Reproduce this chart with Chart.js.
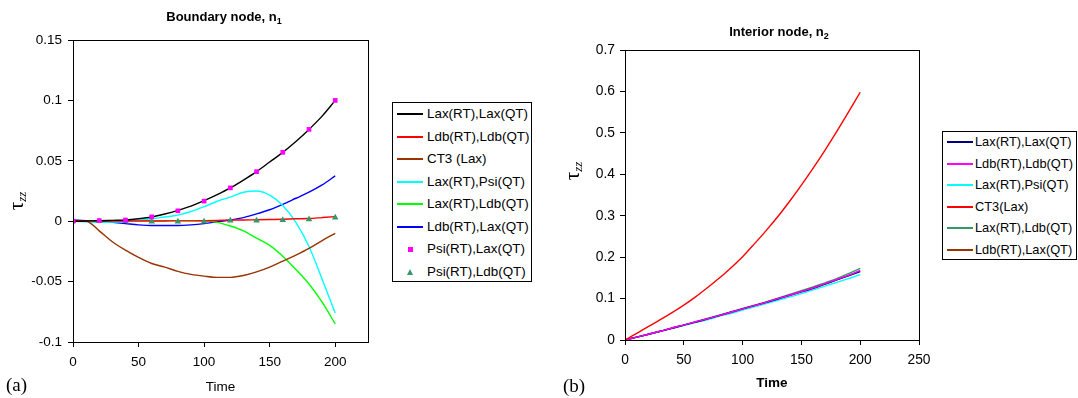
<!DOCTYPE html>
<html>
<head>
<meta charset="utf-8">
<script src="https://cdn.jsdelivr.net/npm/chart.js@4.4.1/dist/chart.umd.min.js"></script>
<style>
  html, body { margin: 0; padding: 0; background: #fff; }
  #wrap { position: relative; width: 1078px; height: 398px; overflow: hidden; font-family: "Liberation Sans", Arial, sans-serif; color: #000; }
  canvas { position: absolute; top: 0; }
  .ttl { position: absolute; font-weight: bold; font-size: 13px; white-space: nowrap; transform: translate(-50%, -50%); line-height: 1; }
  .ttl sub { font-size: 9px; vertical-align: -3px; }
  .ytl { position: absolute; white-space: nowrap; transform: translate(-50%, -50%) rotate(-90deg); font-family: "Liberation Serif", serif; font-size: 21px; line-height: 1; }
  .ytl sub { font-size: 13px; font-style: italic; vertical-align: -3px; }
  .pl { position: absolute; font-family: "Liberation Serif", serif; font-size: 19px; line-height: 1; transform: translateY(-50%); }
  .leg { position: absolute; border: 1px solid #000; box-sizing: border-box; background: #fff; }
  .row { position: absolute; left: 0; right: 0; white-space: nowrap; }
  .row .smp { position: absolute; top: 50%; }
  .row .txt { position: absolute; top: 50%; transform: translateY(-50%); line-height: 1; }
</style>
</head>
<body>
<div id="wrap">
  <canvas id="ca" width="540" height="398" style="left:0"></canvas>
  <canvas id="cb" width="538" height="398" style="left:540px"></canvas>
  <div class="ttl" style="left:224px;top:18px">Boundary node, n<sub>1</sub></div>
  <div class="ttl" style="left:779px;top:33px">Interior node, n<sub>2</sub></div>
  <div class="ytl" style="left:17px;top:201px">τ<sub>zz</sub></div>
  <div class="ytl" style="left:573px;top:171px">τ<sub>zz</sub></div>
  <div class="pl" style="left:6px;top:384px">(a)</div>
  <div class="pl" style="left:563px;top:385px">(b)</div>
  <div class="leg" id="legA" style="left:392px;top:102px;width:140px;height:180px;font-size:13.4px"></div>
  <div class="leg" id="legB" style="left:942px;top:131px;width:135px;height:129px;font-size:12.8px"></div>
</div>
<script>
// ---------- Data: chart (a) Boundary node ----------
const timeA = [0,10,20,30,40,50,60,70,80,90,100,110,120,130,140,150,160,170,180,190,200];
const laxLaxA = [0,0.0002,0.0004,0.0007,0.001,0.002,0.0035,0.006,0.009,0.0125,0.017,0.022,0.0275,0.034,0.041,0.049,0.057,0.066,0.076,0.087,0.100];
const ldbLdbA = [0.0005,0.0005,0.0003,0.0002,0.0002,0.0002,0.0002,0.0002,0.0003,0.0003,0.0004,0.0006,0.0009,0.001,0.0012,0.0014,0.0016,0.002,0.0022,0.003,0.0038];
const ct3A    = [0,0,-0.008,-0.017,-0.024,-0.030,-0.035,-0.038,-0.0415,-0.044,-0.0455,-0.0465,-0.0465,-0.045,-0.042,-0.038,-0.033,-0.028,-0.0225,-0.016,-0.010];
const laxPsiA = [0,-0.0005,-0.001,-0.0008,0,0.0008,0.002,0.0035,0.005,0.008,0.012,0.0165,0.020,0.024,0.025,0.0215,0.013,-0.001,-0.021,-0.048,-0.076];
const laxLdbA = [0,0.0003,0.0004,0.0005,0.0005,0.0005,0.0005,0.0005,0.0005,0.0005,0.0003,-0.001,-0.004,-0.008,-0.014,-0.020,-0.029,-0.040,-0.052,-0.067,-0.085];
const ldbLaxA = [0.001,0.0005,0,-0.001,-0.002,-0.003,-0.0035,-0.0035,-0.0035,-0.003,-0.002,-0.0005,0.001,0.003,0.006,0.0095,0.014,0.019,0.024,0.030,0.0375];
const timeMarkA = [0,20,40,60,80,100,120,140,160,180,200];
const psiLaxA = [0,0.0005,0.001,0.0036,0.0086,0.0166,0.0276,0.041,0.057,0.076,0.100];
const psiLdbA = [0,0,0,-0.0003,-0.0003,-0.0003,0.0005,0.0005,0.001,0.0015,0.003];
const labelsA = ["Lax(RT),Lax(QT)","Ldb(RT),Ldb(QT)","CT3 (Lax)","Lax(RT),Psi(QT)","Lax(RT),Ldb(QT)","Ldb(RT),Lax(QT)","Psi(RT),Lax(QT)","Psi(RT),Ldb(QT)"];
const yTicksA = [-0.1,-0.05,0,0.05,0.1,0.15];
const xTicksA = [0,50,100,150,200];

// ---------- Data: chart (b) Interior node ----------
const timeB = [0,10,20,30,40,50,60,70,80,90,100,110,120,130,140,150,160,170,180,190,200];
const laxLaxB = [0,0.007,0.014,0.021,0.028,0.036,0.043,0.051,0.059,0.067,0.075,0.083,0.091,0.099,0.108,0.116,0.125,0.135,0.145,0.155,0.165];
const ldbLdbB = [0,0.007,0.014,0.021,0.029,0.036,0.044,0.051,0.059,0.067,0.075,0.083,0.091,0.100,0.108,0.117,0.126,0.136,0.146,0.156,0.168];
const laxPsiB = [0,0.007,0.014,0.021,0.028,0.035,0.042,0.049,0.057,0.064,0.072,0.080,0.088,0.096,0.104,0.112,0.121,0.130,0.139,0.148,0.158];
const ct3B    = [0,0.016,0.033,0.049,0.066,0.084,0.104,0.126,0.149,0.174,0.201,0.232,0.264,0.298,0.335,0.374,0.415,0.458,0.503,0.550,0.598];
const laxLdbB = [0,0.007,0.014,0.021,0.029,0.036,0.044,0.052,0.060,0.068,0.076,0.084,0.092,0.101,0.110,0.119,0.128,0.138,0.148,0.160,0.173];
const ldbLaxB = [0,0.007,0.014,0.021,0.029,0.036,0.043,0.051,0.059,0.067,0.075,0.083,0.091,0.100,0.108,0.117,0.126,0.135,0.145,0.156,0.167];
const labelsB = ["Lax(RT),Lax(QT)","Ldb(RT),Ldb(QT)","Lax(RT),Psi(QT)","CT3(Lax)","Lax(RT),Ldb(QT)","Ldb(RT),Lax(QT)"];

// ---------- Styles ----------
const colorsA = ["#000000","#FF0000","#993300","#00FFFF","#00FF00","#0000FF","#FF00FF","#339966"];
const colorsB = ["#000080","#FF00FF","#00FFFF","#FF0000","#339966","#993300"];

const pts = (xs, ys) => xs.map((x, i) => ({x: x, y: ys[i]}));
const fmt = v => String(parseFloat(v.toFixed(3)));

const framePlugin = {
  id: 'frame',
  afterDraw(chart) {
    const a = chart.chartArea, c = chart.ctx;
    c.save();
    c.strokeStyle = '#000';
    c.lineWidth = 1;
    c.strokeRect(Math.round(a.left) + 0.5, Math.round(a.top) + 0.5, Math.round(a.right - a.left), Math.round(a.bottom - a.top));
    c.restore();
  }
};

function lineDs(label, xs, ys, color, order) {
  return { label, data: pts(xs, ys), borderColor: color, backgroundColor: color, borderWidth: 1.4,
           pointRadius: 0, cubicInterpolationMode: 'monotone', fill: false, order: order };
}
function markDs(label, xs, ys, color, style, r) {
  return { label, data: pts(xs, ys), showLine: false, borderColor: color, backgroundColor: color,
           pointStyle: style, pointRadius: r, pointBorderWidth: 0, order: -1 };
}

function makeOptions(o) {
  return {
    responsive: false, animation: false, devicePixelRatio: 1,
    layout: { padding: o.padding },
    plugins: { legend: { display: false }, tooltip: { enabled: false }, title: { display: false } },
    scales: {
      x: {
        type: 'linear', min: o.xmin, max: o.xmax,
        grid: { drawOnChartArea: false, color: '#000', tickLength: 5, tickWidth: 1 },
        border: { color: '#000', width: 1 },
        ticks: { stepSize: 50, includeBounds: false, color: '#000', padding: 7, maxRotation: 0,
                 font: { family: 'Liberation Sans', size: o.tickSize }, callback: v => fmt(v) },
        title: { display: true, text: 'Time', color: '#000', padding: { top: 0, bottom: o.xTitlePad },
                 font: { family: 'Liberation Sans', size: 13.5, weight: o.xTitleWeight } },
        afterFit: s => { s.height = o.xH; }
      },
      y: {
        type: 'linear', min: o.ymin, max: o.ymax,
        grid: { drawOnChartArea: false, color: '#000', tickLength: 5, tickWidth: 1 },
        border: { color: '#000', width: 1 },
        ticks: { stepSize: o.ystep, color: '#000', padding: o.yPad,
                 font: { family: 'Liberation Sans', size: o.tickSize }, callback: v => fmt(v) },
        afterFit: s => { s.width = o.yW; }
      }
    }
  };
}

new Chart(document.getElementById('ca'), {
  type: 'line',
  data: {
    datasets: [
      lineDs(labelsA[0], timeA, laxLaxA, colorsA[0], 1),
      lineDs(labelsA[1], timeA, ldbLdbA, colorsA[1], 2),
      lineDs(labelsA[2], timeA, ct3A, colorsA[2], 3),
      lineDs(labelsA[3], timeA, laxPsiA, colorsA[3], 4),
      lineDs(labelsA[4], timeA, laxLdbA, colorsA[4], 5),
      lineDs(labelsA[5], timeA, ldbLaxA, colorsA[5], 6),
      markDs(labelsA[6], timeMarkA, psiLaxA, colorsA[6], 'rect', 3.3),
      markDs(labelsA[7], timeMarkA, psiLdbA, colorsA[7], 'triangle', 3.8)
    ]
  },
  options: makeOptions({ padding: {left: 10, right: 172, top: 40, bottom: 0}, xmin: 0, xmax: 225, ymin: -0.1, ymax: 0.15,
                         ystep: 0.05, tickSize: 13.5, xTitlePad: 3, xTitleWeight: 'normal', xH: 56, yW: 63, yPad: 6 }),
  plugins: [framePlugin]
});

new Chart(document.getElementById('cb'), {
  type: 'line',
  data: {
    datasets: [
      lineDs(labelsB[0], timeB, laxLaxB, colorsB[0], 3),
      lineDs(labelsB[1], timeB, ldbLdbB, colorsB[1], 2),
      lineDs(labelsB[2], timeB, laxPsiB, colorsB[2], 6),
      lineDs(labelsB[3], timeB, ct3B, colorsB[3], 1),
      lineDs(labelsB[4], timeB, laxLdbB, colorsB[4], 5),
      lineDs(labelsB[5], timeB, ldbLaxB, colorsB[5], 4)
    ]
  },
  options: makeOptions({ padding: {left: 10, right: 159, top: 50, bottom: 0}, xmin: 0, xmax: 250, ymin: 0, ymax: 0.7,
                         ystep: 0.1, tickSize: 13.8, xTitlePad: 6.5, xTitleWeight: 'bold', xH: 58, yW: 75, yPad: 5 }),
  plugins: [framePlugin]
});

// ---------- HTML legends ----------
function buildLegend(el, labels, colors, first, step, sampleLeft, textLeft, kinds) {
  labels.forEach((lab, i) => {
    const row = document.createElement('div');
    row.className = 'row';
    row.style.top = (first + i * step - step / 2) + 'px';
    row.style.height = step + 'px';
    const s = document.createElement('div');
    s.className = 'smp';
    const k = kinds[i];
    if (k === 'line') {
      s.style.left = sampleLeft + 'px'; s.style.width = '26px'; s.style.height = '2px';
      s.style.marginTop = '-1px'; s.style.background = colors[i];
    } else if (k === 'rect') {
      s.style.left = (sampleLeft + 11) + 'px'; s.style.width = '5px'; s.style.height = '5px';
      s.style.marginTop = '-2px'; s.style.background = colors[i];
    } else {
      s.style.left = (sampleLeft + 10) + 'px'; s.style.width = '0'; s.style.height = '0';
      s.style.marginTop = '-3px';
      s.style.borderLeft = '3px solid transparent'; s.style.borderRight = '3px solid transparent';
      s.style.borderBottom = '6px solid ' + colors[i];
    }
    const t = document.createElement('div');
    t.className = 'txt';
    t.style.left = textLeft + 'px';
    t.textContent = lab;
    row.appendChild(s); row.appendChild(t);
    el.appendChild(row);
  });
}
buildLegend(document.getElementById('legA'), labelsA, colorsA, 11, 22.5, 4, 34,
            ['line','line','line','line','line','line','rect','tri']);
buildLegend(document.getElementById('legB'), labelsB, colorsB, 10, 21.5, 4, 32,
            ['line','line','line','line','line','line']);
</script>
</body>
</html>
